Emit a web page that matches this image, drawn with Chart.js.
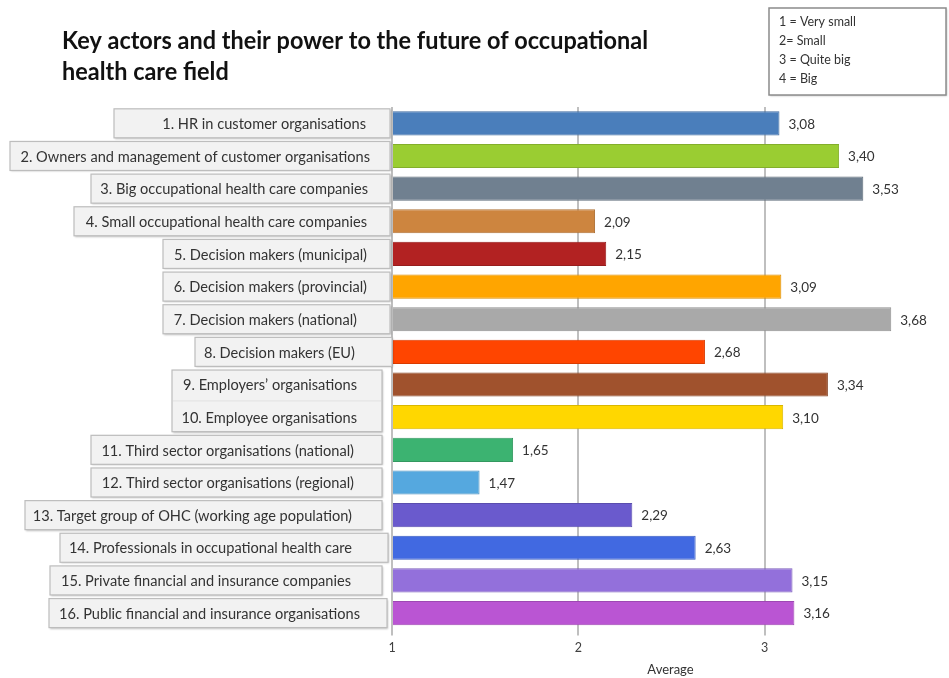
<!DOCTYPE html>
<html>
<head>
<meta charset="utf-8">
<script src="https://cdn.jsdelivr.net/npm/chart.js@4"></script>
<style>
  html, body { margin: 0; padding: 0; background: white; }
  #wrap { width: 949px; height: 678px; }
</style>
</head>
<body>
<div id="wrap"><canvas id="myChart"></canvas></div>
<script>
// data
const categories = [
  "1. HR in customer organisations",
  "2. Owners and management of customer organisations",
  "3. Big occupational health care companies",
  "4. Small occupational health care companies",
  "5. Decision makers (municipal)",
  "6. Decision makers (provincial)",
  "7. Decision makers (national)",
  "8. Decision makers (EU)",
  "9. Employers\u2019 organisations",
  "10. Employee organisations",
  "11. Third sector organisations (national)",
  "12. Third sector organisations (regional)",
  "13. Target group of OHC (working age population)",
  "14. Professionals in occupational health care",
  "15. Private financial and insurance companies",
  "16. Public financial and insurance organisations"
];
const averages = [3.08, 3.40, 3.53, 2.09, 2.15, 3.09, 3.68, 2.68, 3.34, 3.10, 1.65, 1.47, 2.29, 2.63, 3.15, 3.16];
const xTicks = [1, 2, 3];
const scaleNotes = ["1 = Very small", "2= Small", "3 = Quite big", "4 = Big"];
const titleLines = ["Key actors and their power to the future of occupational", "health care field"];
const axisTitle = "Average";

const barColors = ["#4A7EBB", "#9ACD32", "#708090", "#CD853F", "#B22222", "#FFA500", "#A9A9A9", "#FF4500",
  "#A0522D", "#FFD700", "#3CB371", "#55A8DF", "#6A5ACD", "#4169E1", "#9370DB", "#BA55D3"];

// label box layout (pixels), rows 9 and 10 share one box
const labelBoxes = [
  { from: 0, to: 0, left: 114, right: 390 },
  { from: 1, to: 1, left: 10, right: 390 },
  { from: 2, to: 2, left: 91, right: 390 },
  { from: 3, to: 3, left: 74, right: 390 },
  { from: 4, to: 4, left: 163, right: 390 },
  { from: 5, to: 5, left: 163, right: 390 },
  { from: 6, to: 6, left: 163, right: 390 },
  { from: 7, to: 7, left: 195, right: 392 },
  { from: 8, to: 9, left: 172, right: 382 },
  { from: 10, to: 10, left: 91, right: 382 },
  { from: 11, to: 11, left: 91, right: 382 },
  { from: 12, to: 12, left: 25, right: 382 },
  { from: 13, to: 13, left: 60, right: 388 },
  { from: 14, to: 14, left: 50, right: 382 },
  { from: 15, to: 15, left: 49, right: 387 }
];
const labelTextRight = [366, 370, 368, 367, 367, 367, 357, 355, 357, 357, 354, 354, 352, 352, 351, 360];

function darker(hex, f) {
  const n = parseInt(hex.slice(1), 16);
  const r = Math.round(((n >> 16) & 255) * f), g = Math.round(((n >> 8) & 255) * f), b = Math.round((n & 255) * f);
  return `rgb(${r},${g},${b})`;
}

const decorations = {
  id: "decorations",
  afterDraw(chart) {
    const ctx = chart.ctx;
    const y = chart.scales.y;
    const half = 14.5;

    // title
    ctx.save();
    ctx.fillStyle = "#111";
    ctx.font = "bold 24px Lato";
    ctx.textBaseline = "alphabetic";
    const w = ctx.measureText(titleLines[0]).width;
    const sx = Math.min(1, 586 / w);
    ctx.translate(62, 0);
    ctx.scale(sx, 1);
    ctx.fillText(titleLines[0], 0, 49);
    ctx.fillText(titleLines[1], 0, 80);
    ctx.restore();

    // scale notes box
    ctx.save();
    ctx.fillStyle = "white";
    ctx.shadowColor = "rgba(0,0,0,0.25)";
    ctx.shadowBlur = 2;
    ctx.shadowOffsetX = 1;
    ctx.shadowOffsetY = 1;
    ctx.fillRect(769, 8, 177, 87);
    ctx.shadowColor = "transparent";
    ctx.strokeStyle = "#8C8C8C";
    ctx.lineWidth = 1.5;
    ctx.strokeRect(769, 8, 177, 87);
    ctx.fillStyle = "#333";
    ctx.font = "12.5px Lato";
    ctx.textBaseline = "middle";
    scaleNotes.forEach((t, i) => ctx.fillText(t, 779, 22 + i * 19));
    ctx.restore();

    // label boxes
    ctx.save();
    labelBoxes.forEach(b => {
      const top = y.getPixelForValue(b.from) - half;
      const bottom = y.getPixelForValue(b.to) + half;
      ctx.shadowColor = "rgba(0,0,0,0.25)";
      ctx.shadowBlur = 2;
      ctx.shadowOffsetX = 1;
      ctx.shadowOffsetY = 1;
      ctx.fillStyle = "#F2F2F2";
      ctx.fillRect(b.left, top, b.right - b.left, bottom - top);
      ctx.shadowColor = "transparent";
      ctx.strokeStyle = "#BDBDBD";
      ctx.lineWidth = 1.2;
      ctx.strokeRect(b.left, top, b.right - b.left, bottom - top);
      if (b.to > b.from) {
        ctx.strokeStyle = "#E4E4E4";
        ctx.beginPath();
        const mid = (y.getPixelForValue(b.from) + y.getPixelForValue(b.to)) / 2;
        ctx.moveTo(b.left + 1, mid);
        ctx.lineTo(b.right - 1, mid);
        ctx.stroke();
      }
    });
    ctx.fillStyle = "#333";
    ctx.font = "14.6px Lato";
    ctx.textAlign = "right";
    ctx.textBaseline = "middle";
    categories.forEach((c, i) => {
      ctx.fillText(c, labelTextRight[i], y.getPixelForValue(i) + 1);
    });
    ctx.restore();

    // value labels
    ctx.save();
    ctx.fillStyle = "#333";
    ctx.font = "13.5px Lato";
    ctx.textBaseline = "middle";
    const meta = chart.getDatasetMeta(0);
    meta.data.forEach((bar, i) => {
      ctx.fillText(averages[i].toFixed(2).replace(".", ","), bar.x + 9, bar.y + 1);
    });
    ctx.restore();
  }
};

const ctx = document.getElementById("myChart").getContext("2d");
const chart = new Chart(ctx, {
  type: "bar",
  data: {
    labels: categories,
    datasets: [{
      data: averages,
      base: 1,
      backgroundColor: barColors,
      borderColor: barColors.map(c => darker(c, 0.85)),
      borderWidth: 1,
      borderSkipped: "left",
      barPercentage: 0.74,
      categoryPercentage: 1
    }]
  },
  options: {
    indexAxis: "y",
    responsive: true,
    maintainAspectRatio: false,
    animation: false,
    layout: { padding: { left: 392, top: 107, right: 0, bottom: 0 } },
    plugins: { legend: { display: false }, tooltip: { enabled: false } },
    scales: {
      y: { display: false },
      x: {
        min: 1,
        max: 3.99,
        afterBuildTicks: axis => { axis.ticks = xTicks.map(v => ({ value: v })); },
        grid: { color: "#BFBFBF", lineWidth: 2, tickLength: 6, drawTicks: true },
        border: { display: false },
        ticks: { color: "#404040", font: { family: "Lato", size: 12.5 }, padding: 5 },
        title: { display: true, text: axisTitle, color: "#333", font: { family: "Lato", size: 13 }, padding: { top: 2, bottom: 0 } }
      }
    }
  },
  plugins: [decorations]
});
</script>
</body>
</html>
